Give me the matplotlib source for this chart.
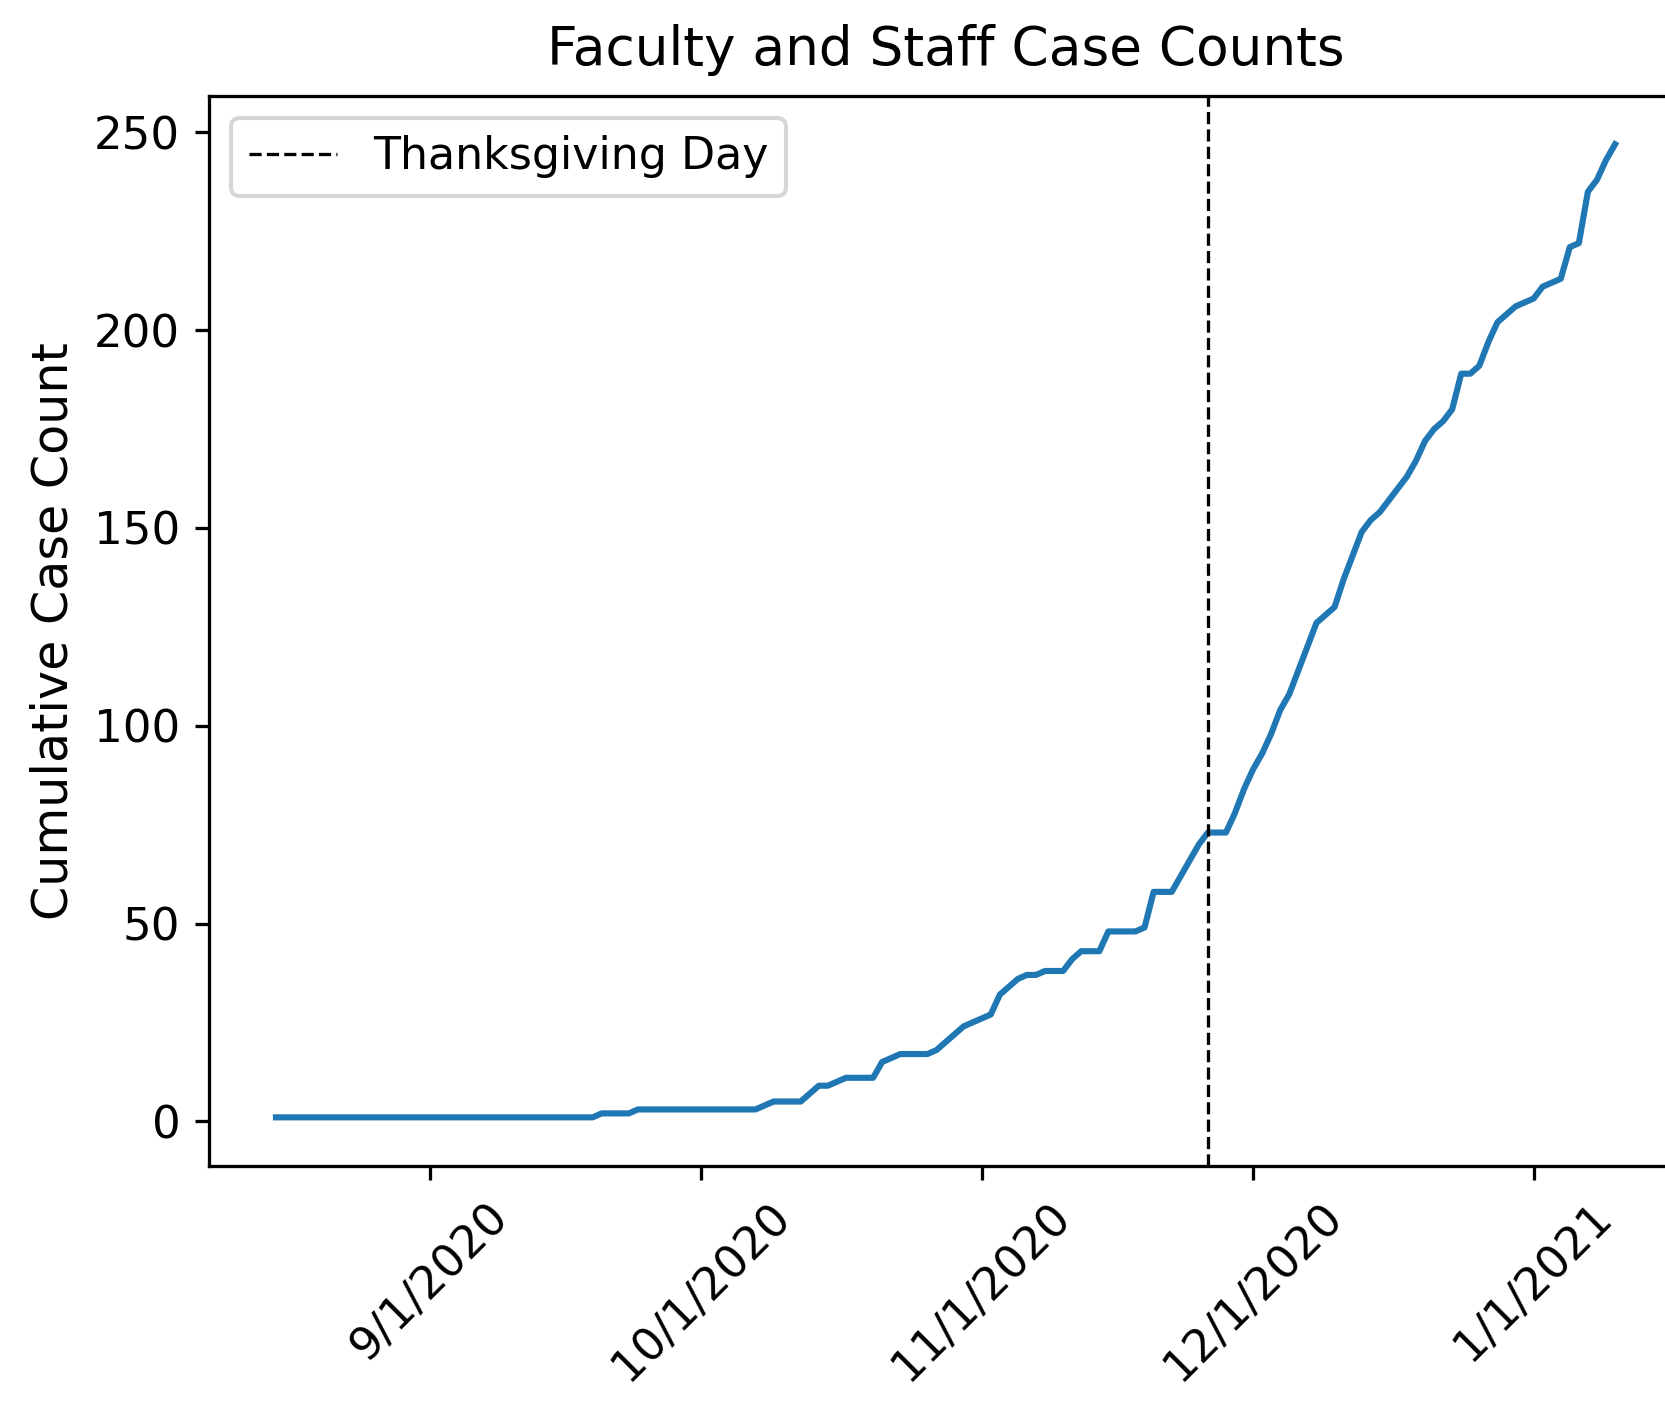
import pandas as pd
import numpy as np
import matplotlib
matplotlib.use("Agg")
import matplotlib.pyplot as plt
import matplotlib.dates as mdates

# daily cumulative faculty/staff cases, 8/15/2020 .. 1/10/2021
start_date = "2020-08-15"
end_date = "2021-01-10"
cases = [
    1, 1, 1, 1, 1, 1, 1, 1, 1, 1,   # Aug 15-24
    1, 1, 1, 1, 1, 1, 1, 1, 1, 1,   # Aug 25 - Sep 3
    1, 1, 1, 1, 1, 1, 1, 1, 1, 1,   # Sep 4-13
    1, 1, 1, 1, 1, 1, 2, 2, 2, 2,   # Sep 14-23
    3, 3, 3, 3, 3, 3, 3, 3, 3, 3,   # Sep 24 - Oct 3
    3, 3, 3, 3, 4, 5, 5, 5, 5, 7,   # Oct 4-13
    9, 9, 10, 11, 11, 11, 11, 15, 16, 17,   # Oct 14-23
    17, 17, 17, 18, 20, 22, 24, 25, 26, 27,   # Oct 24 - Nov 2
    32, 34, 36, 37, 37, 38, 38, 38, 41, 43,   # Nov 3-12
    43, 43, 48, 48, 48, 48, 49, 58, 58, 58,   # Nov 13-22
    62, 66, 70, 73, 73, 73, 78, 84, 89, 93,   # Nov 23 - Dec 2
    98, 104, 108, 114, 120, 126, 128, 130, 137, 143,   # Dec 3-12
    149, 152, 154, 157, 160, 163, 167, 172, 175, 177,  # Dec 13-22
    180, 189, 189, 191, 197, 202, 204, 206, 207, 208,  # Dec 23 - Jan 1
    211, 212, 213, 221, 222, 235, 238, 243, 247,       # Jan 2-10
]
thanksgiving = "2020-11-26"

dates = pd.date_range(start_date, end_date, freq="D")
assert len(dates) == len(cases)

dpi = 295
fig = plt.figure(figsize=(1665 / dpi, 1410 / dpi), dpi=dpi)
ax = fig.add_axes([209 / 1665, 1 - 1166 / 1410, 1473 / 1665, (1166 - 95.6) / 1410])

ax.plot(dates, cases, color="#1f77b4", linewidth=1.5)
ax.axvline(pd.Timestamp(thanksgiving), color="k", linestyle="--", linewidth=0.8,
           label="Thanksgiving Day")

ax.xaxis.set_major_locator(mdates.MonthLocator())
ax.xaxis.set_major_formatter(
    matplotlib.ticker.FuncFormatter(
        lambda v, pos: f"{mdates.num2date(v).month}/{mdates.num2date(v).day}/{mdates.num2date(v).year}"
    )
)
ax.tick_params(labelsize=11)
plt.setp(ax.get_xticklabels(), rotation=45)
ax.set_yticks([0, 50, 100, 150, 200, 250])

ax.set_title("Faculty and Staff Case Counts", fontsize=13, pad=7.5)
ax.set_ylabel("Cumulative Case Count", fontsize=12)
ax.legend(loc="upper left", fontsize=10.8)

fig.savefig("out.png", dpi=dpi)
